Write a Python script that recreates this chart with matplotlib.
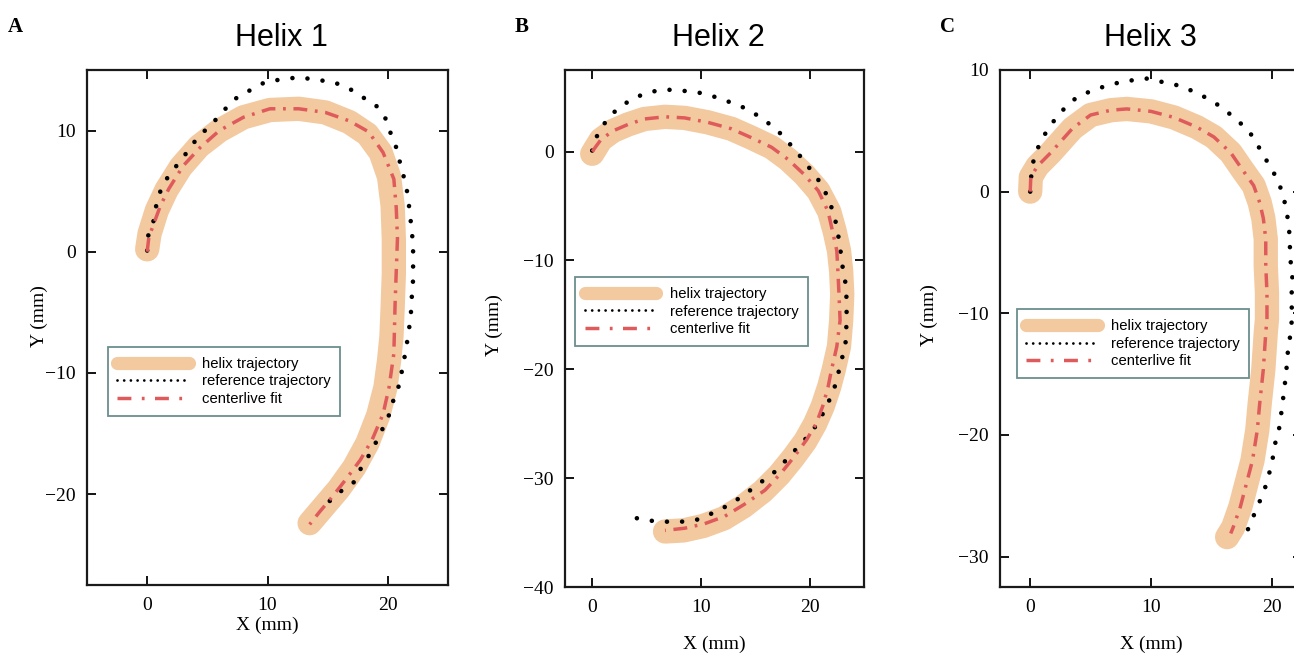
import matplotlib
matplotlib.use('Agg')
import matplotlib.pyplot as plt

# ---- data (mm) ----
helix1_x = [0.0, 0.2, 0.8, 1.6, 2.8, 4.3, 6.0, 8.0, 10.2, 12.6, 14.8, 16.8, 18.3, 19.4,
            20.1, 20.4, 20.5, 20.5, 20.4, 20.3, 20.1, 19.8, 19.2, 18.3, 17.2, 15.9, 14.7, 13.5]
helix1_y = [0.2, 1.5, 3.4, 5.1, 7.0, 8.7, 10.0, 11.1, 11.7, 11.8, 11.5, 10.7, 9.7, 8.2,
            6.2, 3.8, 1.0, -1.8, -4.6, -7.0, -9.0, -11.2, -13.5, -15.8, -17.8, -19.6, -21.0, -22.4]
ref1_x = [0.0, 0.1, 0.55, 0.8, 1.2, 1.8, 2.6, 3.3, 4.1, 5.1, 6.0, 7.1, 8.5, 9.8, 11.0, 12.6,
          14.0, 15.5, 16.9, 18.0, 19.0, 19.8, 20.3, 20.7, 21.0, 21.4, 21.7, 21.8, 22.0, 22.1,
          22.1, 22.1, 22.0, 21.9, 21.7, 21.5, 21.2, 20.9, 20.3, 20.0, 19.3, 18.7, 17.9, 17.2,
          15.9, 14.7]
ref1_y = [0.1, 1.4, 2.6, 4.1, 5.3, 6.3, 7.3, 8.2, 9.3, 10.3, 11.2, 12.5, 13.3, 14.0, 14.2, 14.4,
          14.2, 14.0, 13.4, 12.7, 12.1, 11.0, 9.6, 8.6, 7.4, 5.9, 4.5, 3.3, 1.8, 0.1,
          -1.1, -2.3, -3.6, -5.4, -6.8, -8.1, -9.7, -11.1, -12.7, -13.8, -15.1, -16.4, -17.6, -19.0,
          -19.9, -21.0]
fit1_x = [0.0, 0.14, 1.1, 1.8, 3.0, 4.4, 6.0, 8.0, 10.2, 12.6, 14.8, 16.8, 18.4, 19.6, 20.5,
          20.7, 20.8, 20.7, 20.6, 20.5, 20.1, 19.6, 18.7, 17.7, 16.5, 15.4, 14.3, 13.5]
fit1_y = [0.0, 1.2, 3.8, 5.2, 7.1, 8.6, 10.0, 11.1, 11.8, 11.8, 11.5, 10.8, 9.9, 8.2, 6.0,
          3.6, 1.1, -1.6, -4.4, -8.4, -11.2, -13.4, -15.5, -17.2, -18.8, -20.2, -21.5, -22.5]

helix2_x = [0.0, 0.8, 1.9, 3.3, 4.8, 6.7, 8.5, 10.6, 12.8, 14.6, 16.5, 18.0, 19.5, 20.8, 21.8,
            22.3, 22.7, 22.9, 23.0, 22.9, 22.7, 22.2, 21.8, 21.2, 20.5, 19.6, 18.5, 17.2, 15.7,
            13.9, 12.1, 10.2, 8.4, 6.7]
helix2_y = [-0.2, 1.1, 1.9, 2.5, 3.0, 3.2, 3.1, 2.7, 2.1, 1.3, 0.4, -0.7, -2.1, -3.6, -5.5,
            -7.3, -9.1, -11.0, -13.1, -15.5, -17.9, -20.1, -21.6, -23.4, -25.0, -26.6, -28.1, -29.7, -31.2,
            -32.6, -33.7, -34.4, -34.8, -34.9]
ref2_x = [0.0, 0.5, 1.4, 2.5, 4.0, 5.4, 6.8, 8.3, 9.9, 11.4, 12.8, 14.3, 15.7, 17.0, 18.1,
          19.2, 20.2, 21.1, 21.8, 22.3, 22.6, 22.8, 23.0, 23.3, 23.4, 23.4, 23.3, 23.0, 22.6,
          22.2, 21.5, 20.8, 19.8, 18.6, 17.5, 16.6, 15.2, 13.9, 12.5, 11.1, 9.7, 8.2, 6.8,
          5.2, 3.7]
ref2_y = [0.1, 1.6, 3.0, 4.1, 5.0, 5.5, 5.7, 5.6, 5.4, 5.0, 4.5, 3.9, 3.0, 2.0, 0.8,
          -0.5, -1.8, -3.0, -4.5, -6.0, -7.5, -8.8, -10.4, -12.1, -13.6, -15.6, -17.6, -18.9, -20.5,
          -22.0, -23.5, -24.9, -26.2, -27.5, -28.7, -29.6, -30.6, -31.6, -32.5, -33.2, -33.8, -34.0, -34.0,
          -33.9, -33.6]
fit2_x = [0.0, 0.8, 1.9, 3.3, 4.8, 6.7, 8.5, 10.6, 12.8, 14.6, 16.5, 18.0, 19.5, 20.8, 21.7,
          22.1, 22.5, 22.6, 22.7, 22.8, 22.5, 22.0, 21.7, 21.2, 20.6, 19.7, 18.6, 17.4, 15.9,
          14.0, 12.2, 10.3, 8.5, 6.7]
fit2_y = [0.0, 1.1, 1.9, 2.5, 3.0, 3.2, 3.1, 2.7, 2.1, 1.3, 0.4, -0.7, -2.1, -3.6, -5.5,
          -7.3, -9.1, -11.0, -13.1, -15.5, -17.9, -20.1, -21.6, -23.4, -25.0, -26.5, -28.0, -29.5, -31.1,
          -32.4, -33.5, -34.2, -34.6, -34.8]

helix3_x = [0.0, 0.05, 0.6, 1.7, 3.5, 5.0, 6.7, 8.0, 10.0, 11.9, 13.8, 15.2, 16.6, 17.5, 18.5,
            19.0, 19.3, 19.5, 19.5, 19.6, 19.6, 19.5, 19.3, 19.0, 18.8, 18.4, 17.9, 17.4, 16.8, 16.3]
helix3_y = [0.0, 1.2, 2.1, 3.2, 5.2, 6.3, 6.7, 6.8, 6.6, 6.1, 5.3, 4.5, 3.2, 1.9, 0.5,
            -0.9, -2.2, -3.9, -6.1, -8.3, -10.5, -11.6, -14.6, -17.4, -19.6, -22.1, -24.0, -25.9, -27.6, -28.4]
ref3_x = [0.0, 0.1, 0.3, 0.8, 1.5, 2.4, 3.4, 4.1, 5.4, 6.6, 8.0, 9.7, 11.0, 12.4, 13.6,
          14.8, 15.9, 17.1, 18.1, 18.9, 19.6, 20.3, 20.9, 21.2, 21.4, 21.5, 21.5, 21.7, 21.7,
          21.6, 21.7, 21.5, 21.3, 21.2, 21.0, 20.8, 20.6, 20.2, 20.1, 19.8, 19.4, 18.9, 18.3, 17.8]
ref3_y = [0.0, 1.5, 2.7, 4.0, 5.2, 6.4, 7.4, 7.9, 8.4, 8.8, 9.1, 9.3, 9.0, 8.7, 8.2,
          7.6, 6.9, 5.9, 5.0, 3.7, 2.5, 1.3, -0.1, -1.5, -2.7, -4.1, -5.4, -6.6, -7.7,
          -8.8, -10.2, -12.0, -13.4, -14.8, -16.5, -18.1, -19.5, -21.0, -21.8, -23.1, -24.5, -25.7, -27.1, -28.3]
fit3_x = [0.0, 0.05, 0.6, 1.7, 3.5, 5.0, 6.7, 8.0, 10.0, 11.9, 13.8, 15.2, 16.6, 17.5, 18.5,
          19.0, 19.3, 19.5, 19.5, 19.6, 19.6, 19.5, 19.3, 19.0, 18.8, 18.4, 17.9, 17.4, 16.8, 16.6]
fit3_y = [0.0, 1.2, 2.1, 3.2, 5.2, 6.3, 6.7, 6.8, 6.6, 6.1, 5.3, 4.5, 3.2, 1.9, 0.5,
          -0.9, -2.2, -3.9, -6.1, -8.3, -10.5, -11.6, -14.6, -17.4, -19.6, -22.1, -24.0, -25.9, -27.6, -28.1]

labels = ['helix trajectory', 'reference trajectory', 'centerlive fit']
titles = ['Helix 1', 'Helix 2', 'Helix 3']
panel_letters = ['A', 'B', 'C']
xticks = [0, 10, 20]
yticks1 = [-20, -10, 0, 10]
yticks2 = [-40, -30, -20, -10, 0]
yticks3 = [-30, -20, -10, 0, 10]

W, H = 1294, 655
HELIX_C = '#f3c9a0'
FIT_C = '#df5b5b'
SERIF = 'Liberation Serif'
SANS = 'Liberation Sans'


def px_axes(fig, left, top, right, bottom):
    return fig.add_axes([left / W, 1 - bottom / H, (right - left) / W, (bottom - top) / H])


def plot_helix(ax, hx, hy, rx, ry, fx, fy, xlim, ylim, yticks, title, title_x,
               leg_xy, xlab_y, ylab_xy):
    ax.plot(hx, hy, color=HELIX_C, lw=17.5, solid_capstyle='round', solid_joinstyle='round',
            label=labels[0], zorder=1)
    ax.plot(rx, ry, color='black', lw=3.3, linestyle=(0, (0.01, 3.3)), dash_capstyle='round',
            label=labels[1], zorder=2)
    ax.plot(fx, fy, color=FIT_C, lw=2.5, linestyle=(0, (4, 2.2, 0.8, 2.2)),
            label=labels[2], zorder=3)
    ax.set_xlim(*xlim)
    ax.set_ylim(*ylim)
    ax.set_xticks(xticks)
    ax.set_yticks(yticks)
    ax.tick_params(direction='in', length=6.5, width=1.3, top=True, right=True,
                   labelsize=14)
    ax.tick_params(axis='x', pad=9)
    ax.tick_params(axis='y', pad=8)
    for lab in ax.get_xticklabels() + ax.get_yticklabels():
        lab.set_fontfamily(SERIF)
    for sp in ax.spines.values():
        sp.set_linewidth(1.6)
        sp.set_color('#1a1a1a')
    ax.set_title(title, x=title_x, pad=17, fontsize=22, fontfamily=SANS)
    ax.set_xlabel('X (mm)', fontsize=14, fontfamily=SERIF)
    ax.set_ylabel('Y (mm)', fontsize=14, fontfamily=SERIF)
    ax.xaxis.set_label_coords(0.5, xlab_y)
    ax.yaxis.set_label_coords(*ylab_xy)

    leg = ax.legend(loc='upper left', bbox_to_anchor=leg_xy, borderaxespad=0,
                    prop={'family': SANS, 'size': 10.7}, fancybox=False, framealpha=1,
                    edgecolor='#6b8e8e', handlelength=4.8, handletextpad=0.9,
                    labelspacing=0.25, borderpad=0.65)
    leg.get_frame().set_linewidth(1.3)
    hl = leg.get_lines()
    hl[0].set_linewidth(9.5)
    hl[1].set_linewidth(2.0)
    hl[1].set_linestyle((0, (0.01, 2.4)))
    hl[2].set_linestyle((0, (4, 3, 0.8, 3)))


fig = plt.figure(figsize=(W / 100, H / 100), dpi=100)

ax1 = px_axes(fig, 87, 70, 448, 585)
plot_helix(ax1, helix1_x, helix1_y, ref1_x, ref1_y, fit1_x, fit1_y,
           (-5, 25), (-27.5, 15), yticks1, titles[0], 0.539,
           (0.057, 0.462), -0.062, (-0.108, 0.522))

ax2 = px_axes(fig, 565, 70, 864, 587)
plot_helix(ax2, helix2_x, helix2_y, ref2_x, ref2_y, fit2_x, fit2_y,
           (-2.5, 25), (-40, 7.5), yticks2, titles[1], 0.512,
           (0.034, 0.599), -0.095, (-0.209, 0.507))

ax3 = px_axes(fig, 1000, 70, 1302, 587)
plot_helix(ax3, helix3_x, helix3_y, ref3_x, ref3_y, fit3_x, fit3_y,
           (-2.5, 22.5), (-32.5, 10), yticks3, titles[2], 0.497,
           (0.055, 0.537), -0.095, (-0.205, 0.526))

for letter, xp in zip(panel_letters, [8, 515, 940]):
    fig.text(xp / W, 1 - 32 / H, letter, fontsize=15, fontweight='bold',
             fontfamily=SERIF, va='baseline')

fig.savefig('out.png', dpi=100)
